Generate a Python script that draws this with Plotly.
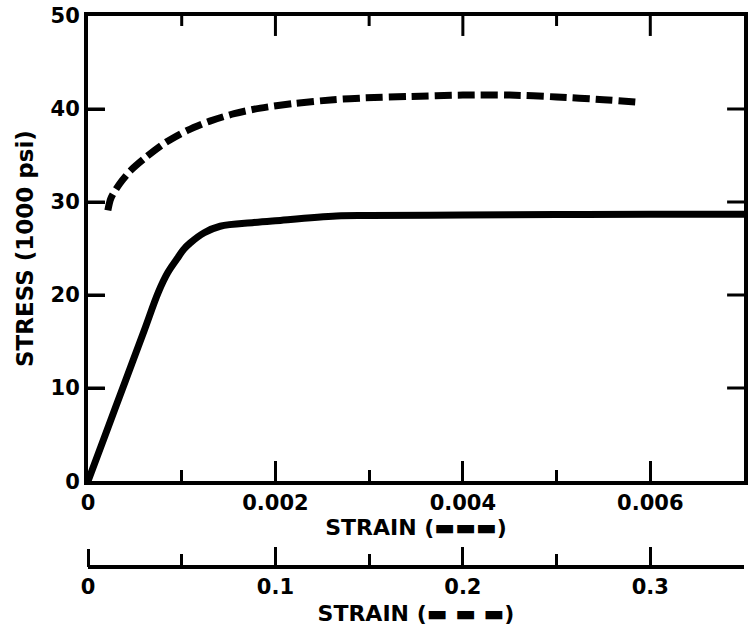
import plotly.graph_objects as go

# Solid curve: strain (bottom axis) vs stress (1000 psi)
strain_solid = [0, 0.0002, 0.0004, 0.0006, 0.00075, 0.00085, 0.00095, 0.00102, 0.00109, 0.00124, 0.00141,
                0.00177, 0.0020, 0.00265, 0.0030, 0.0040, 0.0050, 0.0060, 0.0070]
stress_solid = [0, 5.4, 10.8, 16.2, 20.3, 22.4, 23.9, 24.9, 25.6, 26.7, 27.4,
                27.8, 28.0, 28.5, 28.55, 28.6, 28.65, 28.7, 28.7]

# Dashed curve: strain (second axis) vs stress (1000 psi)
strain_dashed = [0.0106, 0.0122, 0.017, 0.0228, 0.0308, 0.0414, 0.053, 0.065, 0.078,
                 0.092, 0.110, 0.131, 0.148, 0.171, 0.200, 0.225, 0.250, 0.275, 0.295]
stress_dashed = [29.1, 30.4, 32.0, 33.4, 34.8, 36.4, 37.7, 38.7, 39.5,
                 40.1, 40.6, 41.0, 41.2, 41.35, 41.5, 41.5, 41.3, 41.0, 40.7]

x1_range = [0, 0.007]
x1_ticks = [0, 0.002, 0.004, 0.006]
x1_labels = ["0", "0.002", "0.004", "0.006"]
x1_minor_ticks = [0.001, 0.003, 0.005, 0.007]
x1_major_step = 0.002
x1_minor_step = 0.001

x2_range = [0, 0.35]
x2_ticks = [0, 0.1, 0.2, 0.3]
x2_labels = ["0", "0.1", "0.2", "0.3"]
x2_major_step = 0.1
x2_minor_step = 0.05

y_range = [0, 50]
y_ticks = [0, 10, 20, 30, 40, 50]

W, H = 752, 627
M = dict(l=88, r=4, t=15, b=60)
Y_DOMAIN = [0.1558, 1]
PLOT_W = W - M["l"] - M["r"]
PLOT_H = (H - M["t"] - M["b"]) * (Y_DOMAIN[1] - Y_DOMAIN[0])

FONT = "DejaVu Sans"
tickfont = dict(family=FONT, size=21, color="black", weight="bold")
titlefont = dict(family=FONT, size=22, color="black", weight="bold")
TICK_LINE = dict(color="black", width=3)


def tick_axis(rng, step, length, **kw):
    """Axis that only draws tick marks (as minor ticks) every `step`."""
    d = dict(range=rng, tickmode="array", tickvals=[-1e9],
             ticks="", showticklabels=False, showline=False, showgrid=False, zeroline=False,
             minor=dict(tickmode="linear", tick0=0, dtick=step, ticks="inside", ticklen=length,
                        tickwidth=3, tickcolor="black", showgrid=False))
    d.update(kw)
    return d


fig = go.Figure()
fig.add_trace(go.Scatter(x=strain_solid, y=stress_solid, mode="lines",
                         line=dict(color="black", width=7, shape="spline", smoothing=1.0),
                         xaxis="x", yaxis="y", showlegend=False, hoverinfo="skip"))
fig.add_trace(go.Scatter(x=strain_dashed, y=stress_dashed, mode="lines",
                         line=dict(color="black", width=7, dash="17px,6px", shape="spline", smoothing=0.8),
                         xaxis="x2", yaxis="y", showlegend=False, hoverinfo="skip"))
# empty helper trace so the free-positioned tick axis is drawn
fig.add_trace(go.Scatter(x=[], y=[], xaxis="x6", yaxis="y", showlegend=False))

# mirrored tick marks on the top edge (major long, minor short)
for v in x1_ticks[1:]:
    fig.add_shape(type="line", xref="x", yref="y domain",
                  x0=v, x1=v, y0=1, y1=1 - 20 / PLOT_H, line=TICK_LINE, layer="above")
for v in x1_minor_ticks[:-1]:
    fig.add_shape(type="line", xref="x", yref="y domain",
                  x0=v, x1=v, y0=1, y1=1 - 10 / PLOT_H, line=TICK_LINE, layer="above")
# stress tick marks on the left and right edges
for v in y_ticks[1:-1]:
    fig.add_shape(type="line", xref="x domain", yref="y",
                  x0=0, x1=17 / PLOT_W, y0=v, y1=v, line=TICK_LINE, layer="above")
    fig.add_shape(type="line", xref="x domain", yref="y",
                  x0=1, x1=1 - 17 / PLOT_W, y0=v, y1=v, line=TICK_LINE, layer="above")

fig.update_layout(
    width=W, height=H,
    margin=M,
    paper_bgcolor="white", plot_bgcolor="white",
    xaxis=dict(range=x1_range, tickmode="array", tickvals=x1_ticks, ticktext=x1_labels,
               ticks="inside", ticklen=20, tickwidth=3, tickcolor="black",
               minor=dict(tickmode="linear", tick0=0, dtick=x1_minor_step, ticks="inside", ticklen=11,
                          tickwidth=3, tickcolor="black"),
               showline=True, linewidth=4, linecolor="black", mirror=True,
               showgrid=False, zeroline=False, anchor="y", tickfont=tickfont,
               title=dict(text="STRAIN (▬▬▬)", font=titlefont, standoff=6)),
    xaxis2=dict(range=x2_range, tickmode="array", tickvals=x2_ticks, ticktext=x2_labels,
                ticks="inside", ticklen=18, tickwidth=3, tickcolor="black",
                minor=dict(tickmode="linear", tick0=0, dtick=x2_minor_step, ticks="inside", ticklen=11,
                           tickwidth=3, tickcolor="black"),
                showline=True, linewidth=4, linecolor="black",
                showgrid=False, zeroline=False, anchor="free", position=0,
                overlaying="x", side="bottom", tickfont=tickfont,
                title=dict(text="STRAIN (▬ ▬ ▬)", font=titlefont, standoff=6)),
    # tick-mark helper axes
    xaxis3=tick_axis(x1_range, x1_major_step, 20, overlaying="x", anchor="y", side="bottom"),
    xaxis6=tick_axis(x2_range, x2_major_step, 18, overlaying="x", anchor="free", position=0, side="bottom"),
    yaxis=dict(range=y_range, tickmode="array", tickvals=y_ticks, domain=Y_DOMAIN,
               ticks="inside", ticklen=17, tickwidth=3, tickcolor="black",
               showline=True, linewidth=4, linecolor="black", mirror=True,
               showgrid=False, zeroline=False, tickfont=tickfont,
               title=dict(text="STRESS (1000 psi)",
                          font=dict(family=FONT, size=23, color="black", weight="bold"), standoff=12)),
)

fig.write_html("out.html")
